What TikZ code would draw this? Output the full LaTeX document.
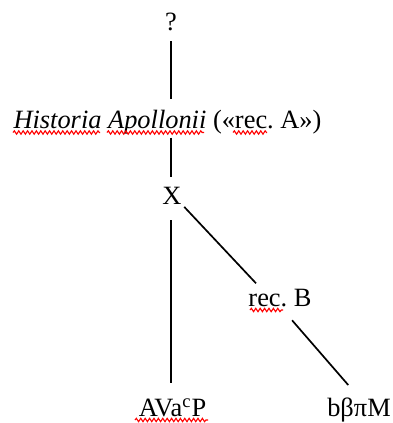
\documentclass[tikz,border=0pt]{standalone}
\usepackage{fontspec}
\setmainfont{Liberation Serif}
\usetikzlibrary{calc, decorations.pathmorphing}
\tikzset{
    witness/.style={inner sep=0pt, outer sep=0pt, anchor=base, font=\fontsize{13.2}{15}\selectfont},
    stemline/.style={line width=0.85pt, black},
    spellmark/.style={draw=red, line width=0.55pt, decorate, decoration={snake, amplitude=0.85pt, segment length=2.2pt}}
}
\frenchspacing

\begin{document}
\begin{tikzpicture}[x=0.5pt, y=-0.5pt]
\useasboundingbox (0,0) rectangle (392,423);

\node[witness] (q) at (171,30) {?};
\node[witness] (hist) at (167.5,128) {\textit{Historia Apollonii} («rec. A»)};
\node[witness] (x) at (172,204) {X};
\node[witness] (recb) at (280,306) {rec. B};
\node[witness] (avcp) at (172.5,416) {AVa\textsuperscript{c}P};
\node[witness] (bbpm) at (359,416) {bβπM};

\draw[stemline, shorten <=5.5pt, shorten >=5.5pt] (q.south) -- (q.south |- hist.north);
\draw[stemline, shorten <=2pt, shorten >=5pt] (q.south |- hist.south) -- (q.south |- x.north);
\draw[stemline, shorten <=8pt, shorten >=8pt] (q.south |- x.south) -- (q.south |- avcp.north);
\draw[stemline, shorten <=2pt, shorten >=3.7pt] (x.base east) -- ($(recb.north west)!0.2!(recb.north east)$);
\draw[stemline, shorten <=9.2pt, shorten >=8.2pt] (recb.south) -- (bbpm.north);

% spell-check underlines
\foreach \a/\b/\y in {13/100/132.5, 107/204/132.5, 233/267/132.5, 250/283/310, 135/208/420}
    \draw[spellmark] (\a,\y) -- (\b,\y);

\end{tikzpicture}
\end{document}
